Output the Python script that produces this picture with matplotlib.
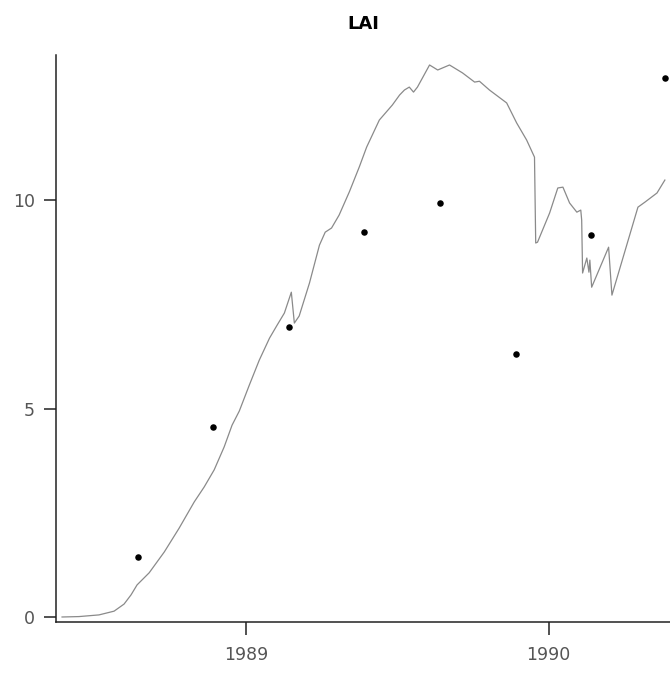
import matplotlib
matplotlib.use("Agg")
import matplotlib.pyplot as plt

# Simulated LAI (line)
sim_t = [1988.391, 1988.447, 1988.513, 1988.563, 1988.596, 1988.619, 1988.639, 1988.679,
         1988.729, 1988.778, 1988.828, 1988.861, 1988.894, 1988.927, 1988.953, 1988.977,
         1989.010, 1989.043, 1989.077, 1989.102, 1989.126, 1989.149, 1989.159, 1989.175,
         1989.209, 1989.242, 1989.261, 1989.282, 1989.307, 1989.341, 1989.374, 1989.398,
         1989.440, 1989.483, 1989.507, 1989.523, 1989.539, 1989.553, 1989.566, 1989.606,
         1989.633, 1989.672, 1989.715, 1989.755, 1989.771, 1989.804, 1989.861, 1989.894,
         1989.927, 1989.953, 1989.957, 1989.963, 1990.003, 1990.030, 1990.047, 1990.069,
         1990.093, 1990.106, 1990.109, 1990.112, 1990.126, 1990.133, 1990.136, 1990.142,
         1990.198, 1990.209, 1990.295, 1990.318, 1990.358, 1990.384]
sim_lai = [0.00, 0.01, 0.05, 0.14, 0.31, 0.53, 0.77, 1.06,
           1.56, 2.13, 2.76, 3.12, 3.53, 4.08, 4.60, 4.94,
           5.56, 6.16, 6.69, 7.00, 7.29, 7.79, 7.05, 7.22,
           8.01, 8.92, 9.23, 9.33, 9.64, 10.20, 10.80, 11.27,
           11.92, 12.28, 12.52, 12.64, 12.71, 12.59, 12.71, 13.24,
           13.12, 13.24, 13.05, 12.83, 12.85, 12.64, 12.33, 11.85,
           11.44, 11.03, 8.97, 8.99, 9.69, 10.29, 10.31, 9.93,
           9.71, 9.76, 9.52, 8.25, 8.61, 8.27, 8.56, 7.91,
           8.87, 7.72, 9.83, 9.95, 10.17, 10.48]

# Observed LAI (points)
obs_t = [1988.642, 1988.891, 1989.142, 1989.388, 1989.639, 1989.891, 1990.139, 1990.384]
obs_lai = [1.44, 4.56, 6.95, 9.23, 9.93, 6.31, 9.16, 12.93]

xticks = [1989, 1990]
xticklabels = ["1989", "1990"]
yticks = [0, 5, 10]

fig = plt.figure(figsize=(6.70, 6.78), dpi=100)
ax = fig.add_axes([0.0836, 0.0826, 0.9164, 0.8363])

ax.plot(sim_t, sim_lai, color="#8a8a8a", lw=0.9)
ax.scatter(obs_t, obs_lai, s=22, color="black", zorder=3, linewidths=0)

ax.set_xlim(1988.371, 1990.401)
ax.set_ylim(-0.12, 13.48)
ax.set_xticks(xticks)
ax.set_xticklabels(xticklabels)
ax.set_yticks(yticks)

for s in ["top", "right"]:
    ax.spines[s].set_visible(False)
for s in ["left", "bottom"]:
    ax.spines[s].set_linewidth(1.1)
    ax.spines[s].set_color("#222222")

ax.tick_params(axis="both", direction="out", length=9, width=1.1, colors="#222222",
               labelcolor="#555555", labelsize=12.5)
ax.tick_params(axis="x", pad=8)
ax.tick_params(axis="y", pad=6)

ax.set_title("LAI", fontsize=13, fontweight="bold", pad=19)

fig.savefig("out.png", dpi=100)
